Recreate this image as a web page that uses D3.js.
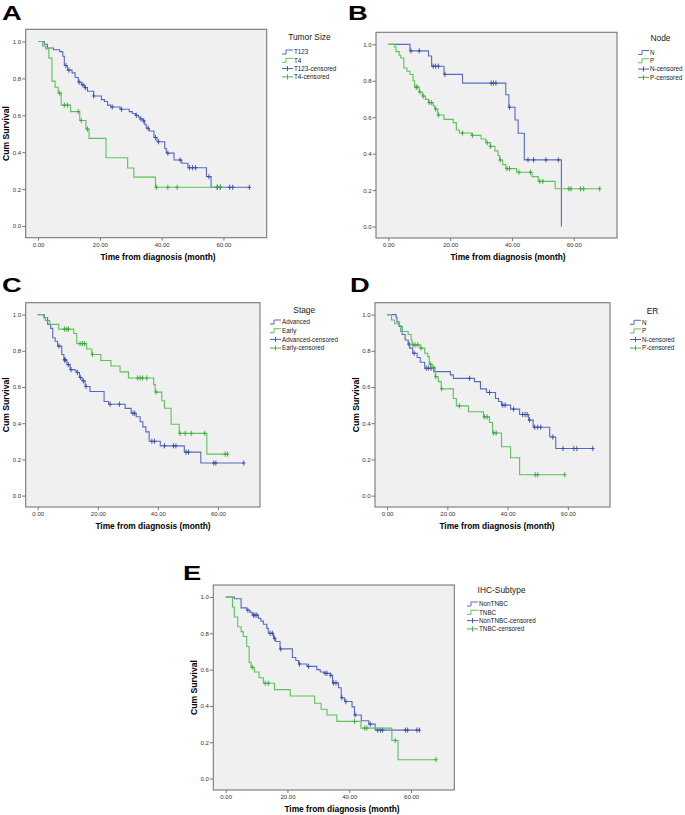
<!DOCTYPE html>
<html lang="en">
<head>
  <meta charset="UTF-8">
  <script src="https://cdn.jsdelivr.net/npm/d3@7"></script>
  <title>Kaplan-Meier panels</title>
  <style>
    body { margin: 0; background: #fff; }
    text { font-family: "Liberation Sans", Arial, sans-serif; }
  </style>
</head>
<body>
  <svg width="685" height="815" id="chart"></svg>
  <script>
    /* DATA: x ticks, y ticks */
    const tickX = [0, 20, 40, 60];
    const tickY = [0, 0.2, 0.4, 0.6, 0.8, 1.0];

    // A - Tumor Size
    const aT123Time = [0, 2, 3, 5, 7, 8, 8.5, 9.5, 11, 12, 13, 14, 15, 16, 18, 20.5, 21.5, 22.5, 23.5, 26.5, 29.5, 30.5, 31.5, 32.5, 33, 34, 34.5, 35, 36, 37.5, 38.5, 41, 41.5, 44, 46.5, 48.5, 54.5, 56];
    const aT123Surv = [1, 0.985, 0.965, 0.955, 0.945, 0.92, 0.87, 0.845, 0.83, 0.805, 0.78, 0.765, 0.75, 0.73, 0.705, 0.685, 0.675, 0.655, 0.645, 0.633, 0.62, 0.61, 0.6, 0.59, 0.58, 0.57, 0.55, 0.53, 0.515, 0.48, 0.457, 0.42, 0.395, 0.358, 0.34, 0.316, 0.268, 0.21];
    const aT123Cens = [9, 10, 13.3, 14.5, 15.3, 18, 24, 27, 31.8, 33.3, 34.2, 35.6, 38, 39, 42, 46, 49, 50, 51, 55.3, 58, 59, 62, 63, 68.4];
    const aT4Time = [0, 1.5, 2.5, 3.5, 4.5, 5.5, 6.5, 7.5, 10.5, 13.5, 15.5, 16.5, 22, 29, 31, 38];
    const aT4Surv = [1, 0.975, 0.96, 0.91, 0.785, 0.752, 0.72, 0.655, 0.62, 0.572, 0.525, 0.475, 0.37, 0.315, 0.265, 0.21];
    const aT4Cens = [7, 8.5, 9.5, 13, 14, 16, 38.3, 42, 45, 58, 59];

    // B - Node
    const bNTime = [0, 7, 13, 14, 18, 24, 38, 39, 41, 42, 44, 56];
    const bNSurv = [1, 0.964, 0.936, 0.88, 0.835, 0.787, 0.723, 0.655, 0.585, 0.512, 0.366, 0];
    const bNCens = [7.3, 10, 14.5, 15.3, 16.2, 18.3, 33.3, 34, 34.8, 39.2, 45.2, 47, 51, 55];
    const bPTime = [0, 2, 2.5, 3.5, 4, 5, 6, 7, 8, 8.5, 10, 11, 12, 13, 14.5, 15, 16, 18, 21, 22, 23, 27, 30, 31.5, 33, 34.5, 35.5, 36, 37, 38, 41.5, 46.5, 48.5, 54];
    const bPSurv = [1, 0.985, 0.96, 0.94, 0.925, 0.87, 0.852, 0.834, 0.8, 0.765, 0.738, 0.716, 0.698, 0.68, 0.663, 0.645, 0.612, 0.588, 0.57, 0.53, 0.513, 0.5, 0.48, 0.46, 0.44, 0.415, 0.39, 0.365, 0.34, 0.318, 0.298, 0.274, 0.248, 0.207];
    const bPCens = [9, 9.3, 10.2, 11.3, 13.2, 14, 15.3, 16.2, 24, 27.2, 32, 33, 36.2, 38.4, 39.2, 42.3, 46, 49, 50, 58.4, 59.1, 62.2, 63.2, 68.4];

    // C - Stage
    const cAdvTime = [0, 2.2, 3.3, 4.3, 5, 5.8, 6.6, 8, 8.7, 9.7, 10.8, 12.4, 13, 13.9, 14.8, 15.8, 17.4, 22.1, 23.6, 29.1, 31.1, 32.8, 34.1, 35, 36, 37.1, 40.8, 48.8, 54.3];
    const cAdvSurv = [1, 0.983, 0.946, 0.924, 0.872, 0.853, 0.826, 0.78, 0.75, 0.724, 0.696, 0.69, 0.68, 0.653, 0.634, 0.603, 0.575, 0.52, 0.505, 0.482, 0.455, 0.436, 0.408, 0.38, 0.352, 0.3, 0.275, 0.24, 0.18];
    const cAdvCens = [7.1, 8.9, 9.2, 10.2, 11.1, 13.2, 14.2, 15.2, 16.1, 24.1, 27.2, 31.7, 32.3, 38, 38.9, 42.2, 45.2, 46, 49.4, 50.2, 58.6, 59.3, 68.6];
    const cEarTime = [0, 2, 2.5, 4, 7, 12, 13, 16.3, 18, 21, 24.4, 27.4, 30.2, 38.6, 39.1, 41.3, 42.2, 44.4, 47.1, 56.3];
    const cEarSurv = [1, 0.983, 0.968, 0.946, 0.92, 0.896, 0.84, 0.81, 0.78, 0.747, 0.716, 0.684, 0.65, 0.613, 0.572, 0.524, 0.483, 0.394, 0.344, 0.229];
    const cEarCens = [8.9, 9.7, 10.2, 14.1, 14.9, 15.6, 18.2, 33.3, 34.1, 34.9, 36.3, 39.4, 47.4, 49.1, 51.1, 55.6, 62.4, 63.2];

    // D - ER
    const dNTime = [0, 3, 3.3, 4, 5, 6, 7, 7.5, 8.5, 10, 11, 12.5, 15.5, 21, 22, 29, 31, 33, 36, 37, 38, 41, 44, 47, 48.5, 54, 56];
    const dNSurv = [1, 0.985, 0.96, 0.935, 0.89, 0.86, 0.837, 0.815, 0.787, 0.763, 0.737, 0.704, 0.685, 0.667, 0.648, 0.63, 0.59, 0.57, 0.537, 0.52, 0.5, 0.478, 0.448, 0.417, 0.378, 0.324, 0.26];
    const dNCens = [7.3, 9, 13, 13.7, 14.6, 27.4, 34, 38.4, 39.2, 42, 45, 45.8, 46.5, 47.3, 49, 50, 51, 55, 58.4, 62, 63, 68.3];
    const dPTime = [0, 1.5, 2.5, 4, 4.5, 7, 8, 8.3, 11, 12.5, 13.5, 14, 15, 16, 17, 18, 22, 23, 27, 32, 34, 35, 38, 41, 44];
    const dPSurv = [1, 0.97, 0.95, 0.94, 0.907, 0.89, 0.86, 0.833, 0.815, 0.787, 0.768, 0.726, 0.707, 0.657, 0.63, 0.59, 0.537, 0.496, 0.463, 0.435, 0.404, 0.346, 0.27, 0.209, 0.115];
    const dPCens = [8.6, 9.3, 10.2, 11.3, 14.4, 15.5, 16.2, 18.1, 24, 32.3, 33.2, 35.4, 36.2, 49.2, 50, 59];

    // E - IHC-Subtype
    const eNonTime = [0, 2.8, 5, 6.8, 7.9, 8.6, 10.6, 11.4, 12.2, 13.3, 13.8, 15.5, 16.2, 17.6, 21.6, 22.7, 23.6, 26.3, 29.5, 30.6, 31.7, 33.8, 34.6, 36.5, 37.4, 38.5, 40.9, 41.7, 43.9, 46.3, 48.4];
    const eNonSurv = [1, 0.99, 0.94, 0.927, 0.915, 0.9, 0.882, 0.867, 0.85, 0.827, 0.8, 0.773, 0.755, 0.714, 0.667, 0.65, 0.631, 0.618, 0.6, 0.587, 0.58, 0.569, 0.527, 0.5, 0.445, 0.424, 0.395, 0.35, 0.318, 0.3, 0.267];
    const eNonCens = [7.2, 9, 9.5, 10.1, 14.4, 15.1, 15.8, 17.8, 23.9, 26.8, 32.2, 32.8, 34, 34.9, 35.7, 37.6, 38.9, 41.9, 46.8, 49.2, 50.1, 50.8, 58.2, 58.9, 61.9, 62.7];
    const eTnTime = [0, 2.2, 2.8, 3.9, 5, 5.7, 6.8, 7.6, 8.2, 9.3, 10.8, 12.2, 15.8, 20.9, 28.8, 30.9, 32.8, 36, 43.8, 53.8, 55.8];
    const eTnSurv = [1, 0.945, 0.89, 0.836, 0.809, 0.782, 0.727, 0.64, 0.613, 0.587, 0.555, 0.525, 0.49, 0.455, 0.415, 0.382, 0.35, 0.315, 0.278, 0.21, 0.104];
    const eTnCens = [8.6, 12.8, 13.8, 41.7, 45, 45.7, 54.9, 68.1];

    /* LAYOUT */
    const blue = "#5869c2", blueDark = "#3b4aa6";
    const green = "#5cc25c", greenDark = "#38a838";

    const panels = [
      { letter: "A", lx: 2, ly: 20, fx: 25.7, fy: 29.3, fw: 241, fh: 208.4, xt: 158, yt: 8.5,
        title: "Tumor Size", legX: 282, legY: 52, legTitleY: 39.5, gap: 8.3,
        names: ["T123", "T4"], series: [[aT123Time, aT123Surv, aT123Cens], [aT4Time, aT4Surv, aT4Cens]] },
      { letter: "B", lx: 348, ly: 20, fx: 376, fy: 32.3, fw: 241, fh: 205.7, xt: 508, yt: null,
        title: "Node", legX: 638, legY: 52.5, legTitleY: 41, gap: 8.3,
        names: ["N", "P"], series: [[bNTime, bNSurv, bNCens], [bPTime, bPSurv, bPCens]] },
      { letter: "C", lx: 2, ly: 292, fx: 25.7, fy: 302.7, fw: 234.3, fh: 204.3, xt: 153, yt: 8.5,
        title: "Stage", legX: 270, legY: 322, legTitleY: 313, gap: 8.7,
        names: ["Advanced", "Early"], series: [[cAdvTime, cAdvSurv, cAdvCens], [cEarTime, cEarSurv, cEarCens]] },
      { letter: "D", lx: 350, ly: 292, fx: 375, fy: 302.7, fw: 235, fh: 204.3, xt: 497, yt: 358.5,
        title: "ER", legX: 630, legY: 322.3, legTitleY: 314, gap: 8.6,
        names: ["N", "P"], series: [[dNTime, dNSurv, dNCens], [dPTime, dPSurv, dPCens]] },
      { letter: "E", lx: 183, ly: 580, fx: 213.3, fy: 585, fw: 241, fh: 205, xt: 342, yt: 196.7,
        title: "IHC-Subtype", legX: 467, legY: 604, legTitleY: 593, gap: 8.3,
        names: ["NonTNBC", "TNBC"], series: [[eNonTime, eNonSurv, eNonCens], [eTnTime, eTnSurv, eTnCens]] }
    ];

    const svg = d3.select("#chart");

    // value of a step curve at time t
    function survAt(times, surv, t) {
      let i = d3.bisectRight(times, t) - 1;
      return surv[Math.max(0, i)];
    }

    panels.forEach(p => {
      let g = svg.append("g");

      let x = d3.scaleLinear().domain([-4, 74]).range([p.fx, p.fx + p.fw]);
      let y = d3.scaleLinear().domain([-0.063, 1.066]).range([p.fy + p.fh, p.fy]);

      // panel letter
      g.append("text")
        .text(p.letter)
        .attr("transform", `translate(${p.lx},${p.ly}) scale(1.3,1)`)
        .style("font-size", "21px")
        .style("font-weight", "bold")

      // plot area
      g.append("rect")
        .attr("x", p.fx).attr("y", p.fy)
        .attr("width", p.fw).attr("height", p.fh)
        .attr("fill", "#f0f0f0")
        .attr("stroke", "#777")
        .attr("stroke-width", 1.1)

      /* AXES */
      let axisX = d3.axisBottom(x).tickValues(tickX).tickFormat(d3.format(".2f")).tickSize(3).tickPadding(2)
      let ax = g.append("g").attr("transform", `translate(0,${p.fy + p.fh})`).call(axisX)
      let axisY = d3.axisLeft(y).tickValues(tickY).tickFormat(d3.format(".1f")).tickSize(3.5).tickPadding(1)
      let ay = g.append("g").attr("transform", `translate(${p.fx},0)`).call(axisY)
      ;[ax, ay].forEach(a => {
        a.select(".domain").remove()
        a.selectAll(".tick line").attr("stroke", "#777")
        a.selectAll(".tick text").style("font-size", "6px").attr("fill", "#333")
          .style("font-family", "'Liberation Sans', Arial, sans-serif")
      })

      g.append("text")
        .text("Time from diagnosis (month)")
        .attr("x", p.xt).attr("y", p.fy + p.fh + 22)
        .attr("text-anchor", "middle")
        .style("font-size", "8.4px").style("font-weight", "bold")

      if (p.yt !== null) {
        g.append("text")
          .text("Cum Survival")
          .attr("transform", `translate(${p.yt},${p.fy + p.fh / 2}) rotate(-90)`)
          .attr("text-anchor", "middle")
          .style("font-size", "8.6px").style("font-weight", "bold")
      }

      /* CURVES */
      let line = d3.line().x(d => x(d[0])).y(d => y(d[1])).curve(d3.curveStepAfter)
      let colors = [[blue, blueDark], [green, greenDark]]

      p.series.forEach((s, k) => {
        let [times, surv, cens] = s
        let pts = times.map((t, i) => [t, surv[i]])
        let tEnd = d3.max(cens)
        if (tEnd > times[times.length - 1]) pts.push([tEnd, surv[surv.length - 1]])
        g.append("path")
          .attr("d", line(pts))
          .attr("fill", "none")
          .attr("stroke", colors[k][0])
          .attr("stroke-width", 1.1)

        g.selectAll(null)
          .data(cens)
          .enter()
          .append("path")
          .attr("d", t => {
            let cx = x(t), cy = y(survAt(times, surv, t))
            return `M${cx - 1.8},${cy}H${cx + 1.8}M${cx},${cy - 2.6}V${cy + 2.6}`
          })
          .attr("stroke", colors[k][1])
          .attr("stroke-width", 0.9)
      })

      /* LEGEND */
      let leg = g.append("g")
      let entries = [
        { name: p.names[0], c: blue, cens: false },
        { name: p.names[1], c: green, cens: false },
        { name: p.names[0] + "-censored", c: blueDark, cens: true },
        { name: p.names[1] + "-censored", c: greenDark, cens: true }
      ]
      entries.forEach((e, i) => {
        let yy = p.legY + i * p.gap
        let x0 = p.legX
        if (e.cens) {
          leg.append("path")
            .attr("d", `M${x0},${yy}H${x0 + 11}M${x0 + 5.5},${yy - 2.6}V${yy + 2.6}`)
            .attr("stroke", e.c).attr("stroke-width", 0.9).attr("fill", "none")
        } else {
          leg.append("path")
            .attr("d", `M${x0},${yy + 2}H${x0 + 4}V${yy - 2}H${x0 + 11}`)
            .attr("stroke", e.c).attr("stroke-width", 1).attr("fill", "none")
        }
        leg.append("text")
          .text(e.name)
          .attr("x", x0 + 12).attr("y", yy + 2.2)
          .style("font-size", "6.3px").attr("fill", "#222")
      })
      let bb = leg.node().getBBox()
      g.append("text")
        .text(p.title)
        .attr("x", bb.x + bb.width / 2).attr("y", p.legTitleY)
        .attr("text-anchor", "middle")
        .style("font-size", "8.4px").attr("fill", "#222")
    })
  </script>
</body>
</html>
